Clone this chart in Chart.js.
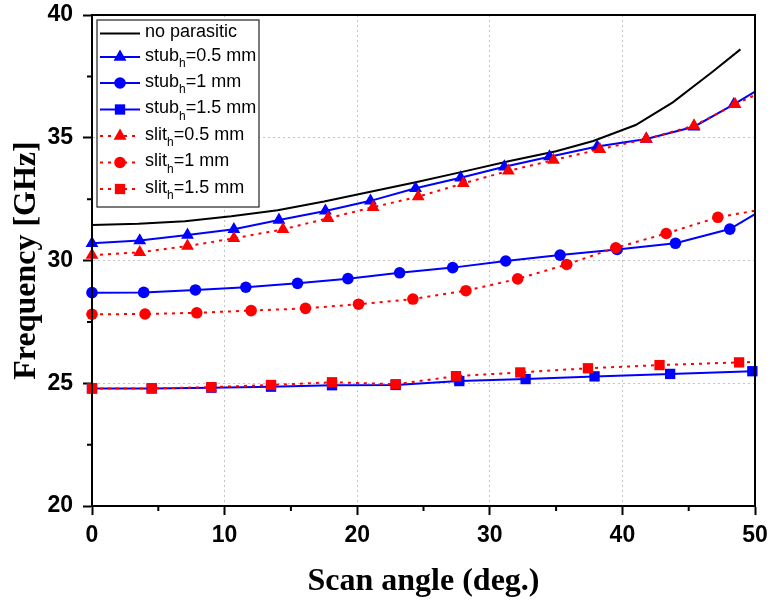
<!DOCTYPE html>
<html>
<head>
<meta charset="utf-8">
<script src="https://cdn.jsdelivr.net/npm/chart.js@4.4.1/dist/chart.umd.min.js"></script>
<style>
  html, body { margin: 0; padding: 0; background: #fff; }
  #wrap { width: 770px; height: 605px; position: relative; }
</style>
</head>
<body>
<div id="wrap"><canvas id="c" width="770" height="605"></canvas></div>
<script>
// ---- data ----
const noParX  = [0, 3.5, 7, 10.5, 14, 17.5, 21, 24.5, 28, 31.5, 35, 37.8, 41, 43.8, 46.8, 48.9];
const noParY  = [31.45, 31.5, 31.6, 31.8, 32.05, 32.4, 32.8, 33.2, 33.62, 34.05, 34.45, 34.87, 35.52, 36.44, 37.69, 38.6];

const stub05X = [0, 3.6, 7.2, 10.7, 14.1, 17.6, 21.0, 24.4, 27.8, 31.1, 34.5, 38.1, 41.8, 45.4, 48.4, 50];
const stub05Y = [30.70, 30.81, 31.04, 31.27, 31.65, 32.02, 32.43, 32.94, 33.37, 33.82, 34.23, 34.64, 34.95, 35.45, 36.36, 36.88];

const stub1X  = [0, 3.9, 7.8, 11.6, 15.5, 19.3, 23.2, 27.2, 31.2, 35.3, 39.6, 44.0, 48.1, 50];
const stub1Y  = [28.69, 28.70, 28.80, 28.91, 29.07, 29.26, 29.50, 29.71, 29.98, 30.22, 30.45, 30.70, 31.28, 31.89];

const stub15X = [0, 4.5, 9.0, 13.5, 18.1, 22.9, 27.7, 32.7, 37.9, 43.6, 49.8];
const stub15Y = [24.79, 24.79, 24.82, 24.86, 24.92, 24.93, 25.09, 25.17, 25.28, 25.38, 25.49];

const slit05X = [0, 3.6, 7.2, 10.7, 14.4, 17.8, 21.2, 24.6, 28.0, 31.4, 34.8, 38.3, 41.8, 45.4, 48.5, 50];
const slit05Y = [30.22, 30.33, 30.59, 30.90, 31.27, 31.72, 32.17, 32.60, 33.14, 33.65, 34.09, 34.53, 34.95, 35.49, 36.36, 36.74];

const slit1X  = [0, 4.0, 7.9, 12.0, 16.1, 20.1, 24.2, 28.2, 32.1, 35.8, 39.5, 43.3, 47.2, 50];
const slit1Y  = [27.81, 27.82, 27.87, 27.96, 28.05, 28.22, 28.43, 28.77, 29.25, 29.84, 30.52, 31.10, 31.76, 32.03];

const slit15X = [0, 4.5, 9.0, 13.5, 18.1, 22.9, 27.45, 32.3, 37.4, 42.8, 48.8, 50];
const slit15Y = [24.79, 24.79, 24.84, 24.93, 25.04, 24.96, 25.29, 25.44, 25.61, 25.74, 25.85, 25.87];

const xTicks = [0, 10, 20, 30, 40, 50];
const yTicks = [20, 25, 30, 35, 40];
const xMinor = [5, 15, 25, 35, 45];
const yMinor = [22.5, 27.5, 32.5, 37.5];

const legendLabels = [
  ['no parasitic', ''],
  ['stub', 'h', '=0.5 mm'],
  ['stub', 'h', '=1 mm'],
  ['stub', 'h', '=1.5 mm'],
  ['slit', 'h', '=0.5 mm'],
  ['slit', 'h', '=1 mm'],
  ['slit', 'h', '=1.5 mm']
];

// ---- helpers ----
const pts = (xs, ys) => xs.map((x, i) => ({x: x, y: ys[i]}));
const BLUE = '#0000ff', RED = '#ff0000';
const TRI = 7.4, CIR = 5.8, SQ = 7.3;
// hide the marker on the end point (line continues to the frame without a symbol)
const lastHidden = (xs, r) => xs.map((x, i) => (i === xs.length - 1 && x === 50 ? 0 : r));

const datasets = [
  {label: 'no parasitic', data: pts(noParX, noParY), borderColor: '#000', borderWidth: 2,
   pointRadius: 0, order: 3, sty: {line: 'solid', color: '#000', marker: null}},
  {label: 'stub 0.5', data: pts(stub05X, stub05Y), borderColor: BLUE, backgroundColor: BLUE, borderWidth: 2,
   pointStyle: 'triangle', pointRadius: lastHidden(stub05X, TRI), pointBorderWidth: 0, order: 2,
   sty: {line: 'solid', color: BLUE, marker: 'triangle', r: TRI}},
  {label: 'stub 1', data: pts(stub1X, stub1Y), borderColor: BLUE, backgroundColor: BLUE, borderWidth: 2,
   pointStyle: 'circle', pointRadius: lastHidden(stub1X, CIR), pointBorderWidth: 0, order: 2,
   sty: {line: 'solid', color: BLUE, marker: 'circle', r: CIR}},
  {label: 'stub 1.5', data: pts(stub15X, stub15Y), borderColor: BLUE, backgroundColor: BLUE, borderWidth: 2,
   pointStyle: 'rect', pointRadius: lastHidden(stub15X, SQ), pointBorderWidth: 0, order: 2,
   sty: {line: 'solid', color: BLUE, marker: 'rect', r: SQ}},
  {label: 'slit 0.5', data: pts(slit05X, slit05Y), borderColor: RED, backgroundColor: RED, borderWidth: 2,
   borderDash: [3, 5], pointStyle: 'triangle', pointRadius: lastHidden(slit05X, TRI), pointBorderWidth: 0, order: 1,
   sty: {line: 'dot', color: RED, marker: 'triangle', r: TRI}},
  {label: 'slit 1', data: pts(slit1X, slit1Y), borderColor: RED, backgroundColor: RED, borderWidth: 2,
   borderDash: [3, 5], pointStyle: 'circle', pointRadius: lastHidden(slit1X, CIR), pointBorderWidth: 0, order: 1,
   sty: {line: 'dot', color: RED, marker: 'circle', r: CIR}},
  {label: 'slit 1.5', data: pts(slit15X, slit15Y), borderColor: RED, backgroundColor: RED, borderWidth: 2,
   borderDash: [3, 5], pointStyle: 'rect', pointRadius: lastHidden(slit15X, SQ), pointBorderWidth: 0, order: 1,
   sty: {line: 'dot', color: RED, marker: 'rect', r: SQ}}
];
datasets.forEach(d => { d.tension = 0; d.clip = false; d.fill = false; });

// ---- plugin: frame, minor ticks and boxed legend ----
const framePlugin = {
  id: 'frame',
  afterDraw(chart) {
    const ctx = chart.ctx, a = chart.chartArea;
    const xs = chart.scales.x, ys = chart.scales.y;
    ctx.save();
    ctx.strokeStyle = '#000';
    ctx.lineWidth = 2;
    ctx.strokeRect(a.left, a.top, a.right - a.left, a.bottom - a.top);
    // minor ticks
    ctx.beginPath();
    xMinor.forEach(v => { const p = xs.getPixelForValue(v); ctx.moveTo(p, a.bottom); ctx.lineTo(p, a.bottom + 5); });
    yMinor.forEach(v => { const p = ys.getPixelForValue(v); ctx.moveTo(a.left, p); ctx.lineTo(a.left - 5, p); });
    ctx.stroke();

    // legend
    const bx = a.left + 5, by = a.top + 5, bw = 162, bh = 187;
    ctx.fillStyle = '#fff';
    ctx.fillRect(bx, by, bw, bh);
    ctx.lineWidth = 1.2;
    ctx.strokeStyle = '#222';
    ctx.strokeRect(bx, by, bw, bh);
    const rows = [13.5, 37, 63, 89.5, 116, 142.5, 169];
    datasets.forEach((d, i) => {
      const y = by + rows[i];
      const s = d.sty;
      ctx.save();
      ctx.strokeStyle = s.color;
      ctx.lineWidth = 2;
      ctx.setLineDash(s.line === 'dot' ? [3, 5] : []);
      ctx.beginPath();
      ctx.moveTo(bx + 3, y); ctx.lineTo(bx + 43, y);
      ctx.stroke();
      ctx.restore();
      if (s.marker) {
        ctx.save();
        ctx.fillStyle = s.color;
        ctx.strokeStyle = s.color;
        Chart.helpers.drawPoint(ctx, {pointStyle: s.marker, radius: s.r, borderWidth: 0}, bx + 23, y);
        ctx.restore();
      }
      // text with subscript
      const lab = legendLabels[i];
      let tx = bx + 48;
      ctx.fillStyle = '#000';
      ctx.textBaseline = 'middle';
      ctx.textAlign = 'left';
      ctx.font = '18px "Liberation Sans", Arial, sans-serif';
      ctx.fillText(lab[0], tx, y - 1);
      tx += ctx.measureText(lab[0]).width;
      if (lab.length > 2) {
        ctx.font = '12px "Liberation Sans", Arial, sans-serif';
        ctx.fillText(lab[1], tx, y + 7);
        tx += ctx.measureText(lab[1]).width;
        ctx.font = '18px "Liberation Sans", Arial, sans-serif';
        ctx.fillText(lab[2], tx, y - 1);
      }
    });
    ctx.restore();
  }
};

const tickFont = {family: '"Liberation Sans", Arial, sans-serif', size: 23, weight: 'bold'};
const titleFont = {family: '"Liberation Serif", "Times New Roman", serif', size: 32, weight: 'bold'};

new Chart(document.getElementById('c'), {
  type: 'line',
  data: {datasets: datasets},
  options: {
    responsive: false,
    animation: false,
    events: [],
    layout: {padding: {top: 15, right: 15, left: 0, bottom: 0}},
    plugins: {legend: {display: false}, tooltip: {enabled: false}},
    scales: {
      x: {
        type: 'linear', min: 0, max: 50,
        afterBuildTicks: s => { s.ticks = xTicks.map(v => ({value: v})); },
        afterFit: s => { s.height = 99; s.paddingLeft = 0; s.paddingRight = 0; },
        ticks: {color: '#000', font: tickFont, padding: 7, maxRotation: 0, autoSkip: false},
        grid: {color: '#c4c4c4', lineWidth: 1, tickLength: 9, tickWidth: 2, tickColor: '#000'},
        border: {display: true, color: '#000', width: 2, dash: [2, 3]},
        title: {display: true, text: 'Scan angle (deg.)', color: '#000', font: titleFont, padding: {top: 0, bottom: 4}}
      },
      y: {
        type: 'linear', min: 20, max: 40,
        afterBuildTicks: s => { s.ticks = yTicks.map(v => ({value: v})); },
        afterFit: s => { s.width = 92; s.paddingTop = 0; s.paddingBottom = 0; },
        ticks: {color: '#000', font: tickFont, padding: 10, autoSkip: false},
        grid: {color: '#c4c4c4', lineWidth: 1, tickLength: 9, tickWidth: 2, tickColor: '#000'},
        border: {display: true, color: '#000', width: 2, dash: [2, 3]},
        title: {display: true, text: 'Frequency [GHz]', color: '#000', font: titleFont, padding: {top: 8, bottom: 0}}
      }
    }
  },
  plugins: [framePlugin]
});
</script>
</body>
</html>
